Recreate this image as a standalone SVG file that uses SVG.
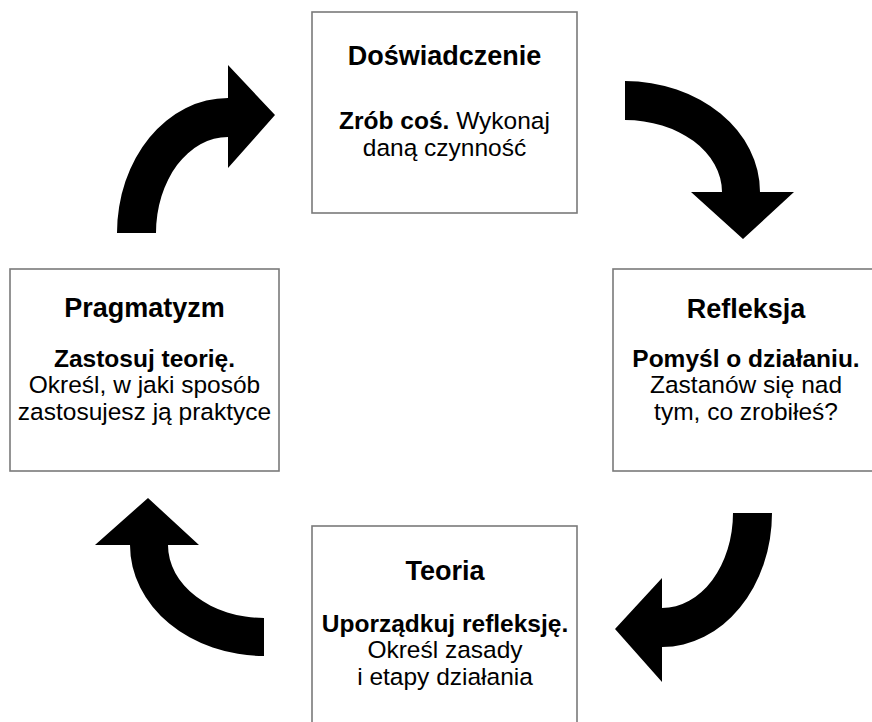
<svg xmlns="http://www.w3.org/2000/svg" width="872" height="722" viewBox="0 0 872 722">
<style>
.box{fill:#fff;stroke:#7a7a7a;stroke-width:1.6}
text{font-family:"Liberation Sans",Arial,sans-serif;fill:#000;text-anchor:middle}
.t{font-size:27px;font-weight:bold}
.b{font-size:24.5px}
.bb{font-weight:bold}
.arr{fill:#000}
</style>
<rect width="872" height="722" fill="#fff"/>
<g id="connectors">
<path class="arr" d="M117,233 A111,135 0 0 1 228,98 L228,65 L275,115 L228,168 L228,137 A72,96 0 0 0 156,233 Z"/>
<path class="arr" d="M625,81 A135,111 0 0 1 760,192 L794,192 L743,239 L691,192 L722,192 A97,72 0 0 0 625,120 Z"/>
<path class="arr" d="M772,513 A110,134 0 0 1 662,647 L662,682 L615,629 L662,578 L662,608 A71,95 0 0 0 733,513 Z"/>
<path class="arr" d="M264,656 A134,111 0 0 1 130,545 L95,545 L148,498 L199,545 L168,545 A96,73 0 0 0 264,618 Z"/>
</g>
<g id="doswiadczenie">
<rect class="box" x="312" y="12" width="265" height="201"/>
<text class="t" x="444.5" y="65">Doświadczenie</text>
<text class="b" x="444.5" y="129"><tspan class="bb">Zrób coś.</tspan> Wykonaj</text>
<text class="b" x="444.5" y="156">daną czynność</text>
</g>
<g id="refleksja">
<rect class="box" x="613" y="269" width="265" height="202"/>
<text class="t" x="746" y="318">Refleksja</text>
<text class="b bb" x="746" y="367">Pomyśl o działaniu.</text>
<text class="b" x="746" y="393">Zastanów się nad</text>
<text class="b" x="746" y="420">tym, co zrobiłeś?</text>
</g>
<g id="teoria">
<rect class="box" x="312" y="526" width="265" height="202"/>
<text class="t" x="445" y="580">Teoria</text>
<text class="b bb" x="445" y="632">Uporządkuj refleksję.</text>
<text class="b" x="445" y="658">Określ zasady</text>
<text class="b" x="445" y="685">i etapy działania</text>
</g>
<g id="pragmatyzm">
<rect class="box" x="10" y="269" width="269" height="202"/>
<text class="t" x="144.5" y="317">Pragmatyzm</text>
<text class="b bb" x="144.5" y="367">Zastosuj teorię.</text>
<text class="b" x="144.5" y="393">Określ, w jaki sposób</text>
<text class="b" x="144.5" y="420">zastosujesz ją praktyce</text>
</g>
</svg>
